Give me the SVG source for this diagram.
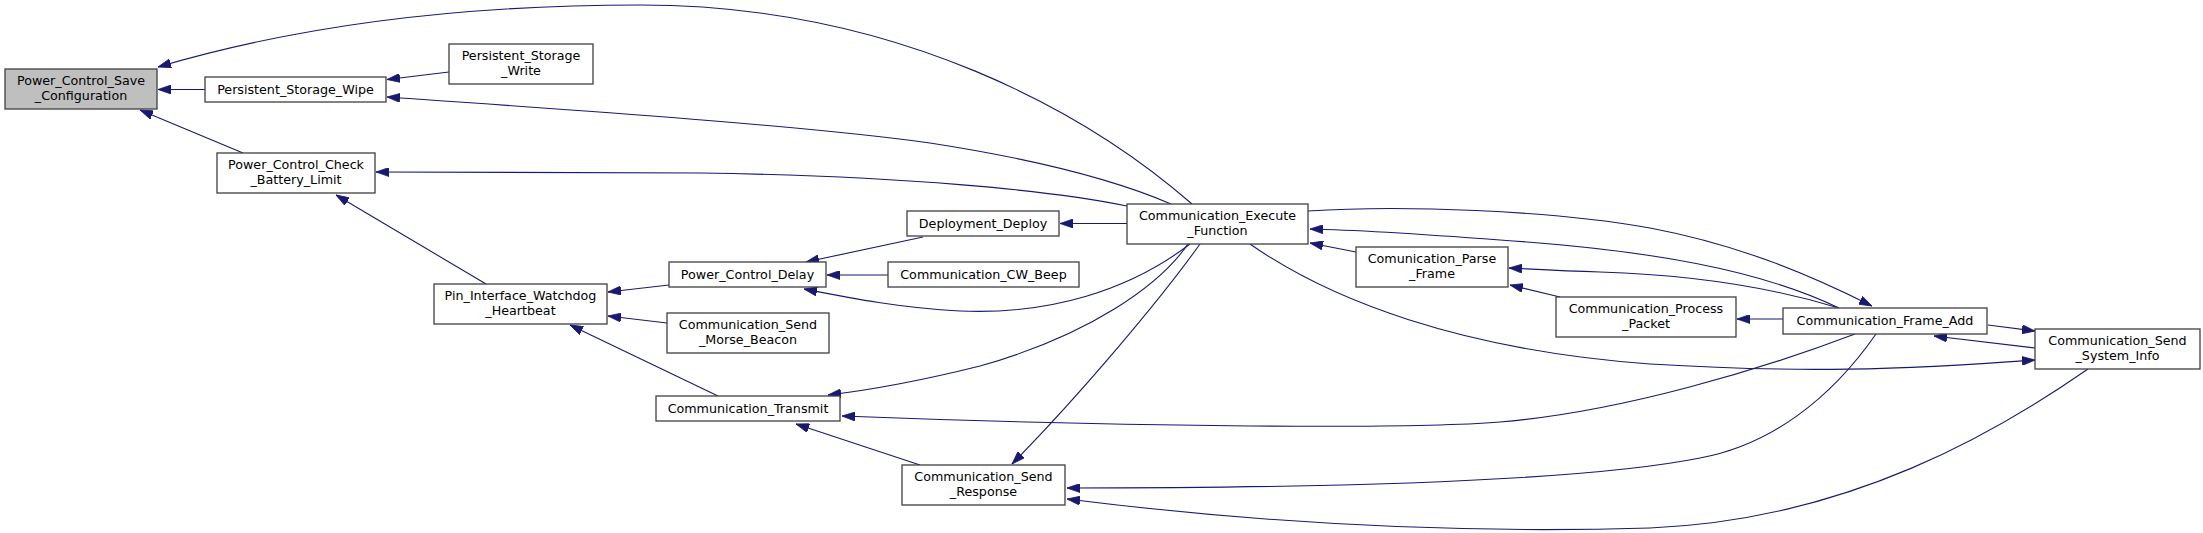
<svg xmlns="http://www.w3.org/2000/svg" width="2203" height="533" viewBox="0 0 2203 533">
<style>
.n rect{fill:#ffffff;stroke:#404040;stroke-width:1.3}
.n.hl rect{fill:#bfbfbf}
.n text{font-family:"DejaVu Sans",Verdana,sans-serif;font-size:12.7px;fill:#000;text-anchor:middle}
#edges path{fill:none;stroke:#191970;stroke-width:1.1;marker-end:url(#ah)}
</style>
<defs>
<marker id="ah" markerUnits="userSpaceOnUse" markerWidth="13" markerHeight="9" viewBox="0 0 13 9" refX="13" refY="4.5" orient="auto">
<path d="M0,0 L13,4.5 L0,9 z" fill="#191970" stroke="#191970" stroke-width="0.8"/>
</marker>
</defs>
<rect width="2203" height="533" fill="#ffffff"/>
<g id="edges">
<path d="M205,89.5 L158,89.5"/>
<path d="M1192,204 C1090,115 900,5 640,5 C480,5 310,22 158,67"/>
<path d="M243,153 L140,110"/>
<path d="M449,72 L387,79.5"/>
<path d="M1171,204 C1120,182 1040,160 930,143 C800,125 560,109 387,97"/>
<path d="M1127,206 C1050,190 900,176 700,173 C550,172 450,172 376,172"/>
<path d="M486,284 L336,195"/>
<path d="M669,285 L608,292"/>
<path d="M667,323 L608,316"/>
<path d="M718,396 L570,325"/>
<path d="M923,237 L806,262"/>
<path d="M888,275 L827,275"/>
<path d="M1190,244 C1130,290 1050,315 960,311 C900,308 850,298 804,289"/>
<path d="M1127,223.5 L1060,223.5"/>
<path d="M1188,244 C1160,285 1090,335 980,366 C920,381 870,390 828,395"/>
<path d="M920,465 L796,424"/>
<path d="M1855,334 C1760,370 1620,412 1500,422 C1400,430 1100,426 842,416"/>
<path d="M1200,244 C1160,300 1080,395 1012,464"/>
<path d="M1876,334 C1830,400 1770,445 1700,458 C1600,478 1400,488 1067,488"/>
<path d="M2088,369 C2000,430 1850,520 1650,528 C1450,534 1250,522 1067,499"/>
<path d="M1839,308 C1760,270 1650,250 1500,240 C1420,234 1360,230 1310,229"/>
<path d="M1356,252 L1310,243"/>
<path d="M1308,211 C1400,205 1550,210 1650,228 C1740,245 1810,275 1872,306"/>
<path d="M1839,308 C1780,290 1700,275 1600,272 C1560,271 1530,269 1509,268"/>
<path d="M1560,297 L1510,285"/>
<path d="M1783,319 L1737,319"/>
<path d="M1250,244 C1330,300 1460,350 1650,364 C1800,373 1900,370 2035,360"/>
<path d="M1988,325 L2035,331"/>
<path d="M2035,348 L1934,336"/>
</g>
<g id="n_pcsc" class="n hl"><rect x="5" y="69" width="152" height="40"/><text x="81" y="85">Power_Control_Save</text><text x="81" y="100">_Configuration</text></g>
<g id="n_wipe" class="n"><rect x="205" y="77" width="181" height="25"/><text x="295.5" y="94">Persistent_Storage_Wipe</text></g>
<g id="n_write" class="n"><rect x="449" y="44" width="144" height="40"/><text x="521" y="60">Persistent_Storage</text><text x="521" y="75">_Write</text></g>
<g id="n_check" class="n"><rect x="217" y="153" width="158" height="40"/><text x="296" y="169">Power_Control_Check</text><text x="296" y="184">_Battery_Limit</text></g>
<g id="n_pin" class="n"><rect x="434" y="284" width="173" height="40"/><text x="520.5" y="300">Pin_Interface_Watchdog</text><text x="520.5" y="315">_Heartbeat</text></g>
<g id="n_delay" class="n"><rect x="669" y="262" width="157" height="25"/><text x="747.5" y="279">Power_Control_Delay</text></g>
<g id="n_morse" class="n"><rect x="667" y="313" width="162" height="40"/><text x="748" y="329">Communication_Send</text><text x="748" y="344">_Morse_Beacon</text></g>
<g id="n_transmit" class="n"><rect x="656" y="396" width="184" height="25"/><text x="748" y="413">Communication_Transmit</text></g>
<g id="n_deploy" class="n"><rect x="907" y="211" width="152" height="25"/><text x="983" y="228">Deployment_Deploy</text></g>
<g id="n_cwbeep" class="n"><rect x="888" y="262" width="191" height="25"/><text x="983.5" y="279">Communication_CW_Beep</text></g>
<g id="n_sendresp" class="n"><rect x="902" y="465" width="163" height="40"/><text x="983.5" y="481">Communication_Send</text><text x="983.5" y="496">_Response</text></g>
<g id="n_execute" class="n"><rect x="1127" y="204" width="181" height="40"/><text x="1217.5" y="220">Communication_Execute</text><text x="1217.5" y="235">_Function</text></g>
<g id="n_parse" class="n"><rect x="1356" y="247" width="152" height="40"/><text x="1432" y="263">Comunication_Parse</text><text x="1432" y="278">_Frame</text></g>
<g id="n_process" class="n"><rect x="1556" y="297" width="180" height="40"/><text x="1646" y="313">Communication_Process</text><text x="1646" y="328">_Packet</text></g>
<g id="n_frameadd" class="n"><rect x="1783" y="308" width="204" height="26"/><text x="1885" y="325">Communication_Frame_Add</text></g>
<g id="n_sysinfo" class="n"><rect x="2035" y="329" width="165" height="40"/><text x="2117.5" y="345">Communication_Send</text><text x="2117.5" y="360">_System_Info</text></g>
</svg>
